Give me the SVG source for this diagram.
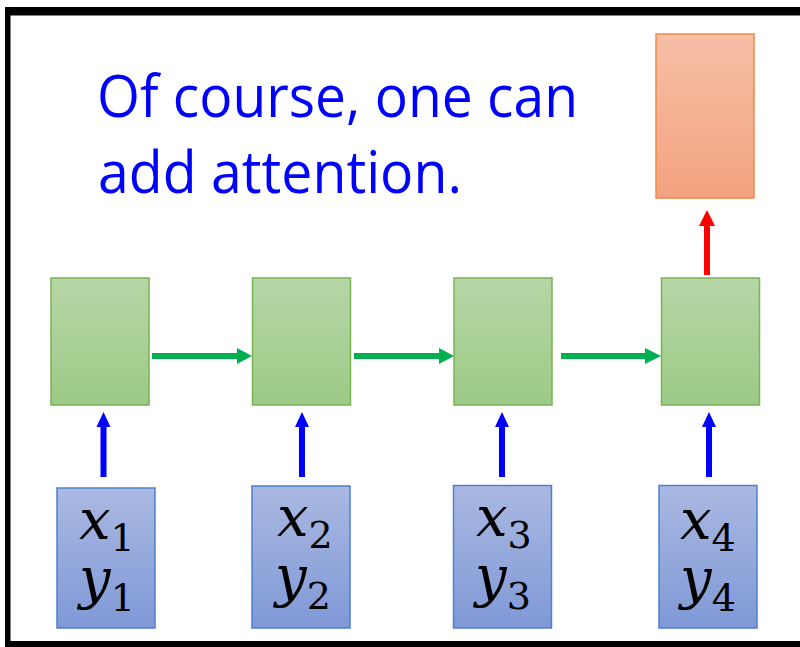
<svg xmlns="http://www.w3.org/2000/svg" width="800" height="647" viewBox="0 0 800 647">
  <defs>
    <linearGradient id="gGreen" x1="0" y1="0" x2="0" y2="1">
      <stop offset="0" stop-color="#b6d6a6"/>
      <stop offset="1" stop-color="#9dca86"/>
    </linearGradient>
    <linearGradient id="gBlue" x1="0" y1="0" x2="0" y2="1">
      <stop offset="0" stop-color="#aab9e2"/>
      <stop offset="1" stop-color="#7f98d6"/>
    </linearGradient>
    <linearGradient id="gOrange" x1="0" y1="0" x2="0" y2="1">
      <stop offset="0" stop-color="#f6bfa6"/>
      <stop offset="1" stop-color="#f4a27f"/>
    </linearGradient>
  </defs>
  <style>
    .green { fill: url(#gGreen); stroke: #7ab354; stroke-width: 1.5; }
    .blue { fill: url(#gBlue); stroke: #4f7fd0; stroke-width: 1.5; }
    .orange { fill: url(#gOrange); stroke: #ee8a4a; stroke-width: 1.5; }
    .title { font-family: "Open Sans", "Liberation Sans", sans-serif; font-size: 58px; fill: #0000ff; }
    .var { font-family: "DejaVu Serif", "Liberation Serif", serif; font-style: italic; font-size: 56px; fill: #000; }
    .sub { font-family: "DejaVu Serif", "Liberation Serif", serif; font-style: normal; font-size: 38px; fill: #000; }
  </style>

  <rect x="0" y="0" width="800" height="647" fill="#ffffff"/>
  <!-- frame -->
  <g id="frame" fill="#000">
    <rect x="5" y="7" width="795" height="8.5"/>
    <rect x="5" y="7" width="5.5" height="640"/>
    <rect x="5" y="641" width="795" height="6"/>
  </g>

  <g id="title">
    <text class="title" x="97" y="117" textLength="481" lengthAdjust="spacingAndGlyphs">Of course, one can</text>
    <text class="title" x="98" y="193" textLength="364" lengthAdjust="spacingAndGlyphs">add attention.</text>
  </g>

  <g id="output"><rect class="orange" x="656" y="34" width="98" height="164"/></g>

  <g id="h1"><rect class="green" x="51" y="278" width="98" height="127"/></g>
  <g id="h2"><rect class="green" x="252.5" y="278" width="98" height="127"/></g>
  <g id="h3"><rect class="green" x="454" y="278" width="98" height="127"/></g>
  <g id="h4"><rect class="green" x="661.5" y="278" width="98" height="127"/></g>

  <g id="in1">
    <rect class="blue" x="57" y="488" width="98" height="140"/>
    <text x="79" y="539"><tspan class="var">x</tspan><tspan class="sub" dy="12">1</tspan></text>
    <text x="79" y="598"><tspan class="var">y</tspan><tspan class="sub" dy="13">1</tspan></text>
  </g>
  <g id="in2">
    <rect class="blue" x="252" y="486" width="98" height="142"/>
    <text x="277" y="536"><tspan class="var">x</tspan><tspan class="sub" dy="12">2</tspan></text>
    <text x="275" y="596"><tspan class="var">y</tspan><tspan class="sub" dy="13">2</tspan></text>
  </g>
  <g id="in3">
    <rect class="blue" x="453.5" y="485.5" width="98" height="142.5"/>
    <text x="476" y="536"><tspan class="var">x</tspan><tspan class="sub" dy="12">3</tspan></text>
    <text x="475" y="596"><tspan class="var">y</tspan><tspan class="sub" dy="13">3</tspan></text>
  </g>
  <g id="in4">
    <rect class="blue" x="659" y="485.5" width="98" height="142.5"/>
    <text x="680" y="539"><tspan class="var">x</tspan><tspan class="sub" dy="12">4</tspan></text>
    <text x="680" y="598"><tspan class="var">y</tspan><tspan class="sub" dy="13">4</tspan></text>
  </g>

  <g id="connectors">
    <!-- green recurrent arrows -->
    <g fill="#00b050">
      <path d="M152,353 H237 V348 L252,356 L237,364 V359 H152 Z"/>
      <path d="M354,353 H439 V348 L454,356 L439,364 V359 H354 Z"/>
      <path d="M561,353 H645 V348 L661,356 L645,364 V359 H561 Z"/>
    </g>
    <!-- blue input arrows -->
    <g fill="#0000ff">
      <path d="M100.5,477 V427 H96.5 L103.5,412 L110.5,427 H106.5 V477 Z"/>
      <path d="M299,477 V427 H295 L302,412 L309,427 H305 V477 Z"/>
      <path d="M499,477 V427 H495 L502,412 L509,427 H505 V477 Z"/>
      <path d="M706,477 V427 H702 L709,412 L716,427 H712 V477 Z"/>
    </g>
    <!-- red output arrow -->
    <path fill="#ff0000" d="M704,275 V226 H699 L707,210 L715,226 H710 V275 Z"/>
  </g>
</svg>
